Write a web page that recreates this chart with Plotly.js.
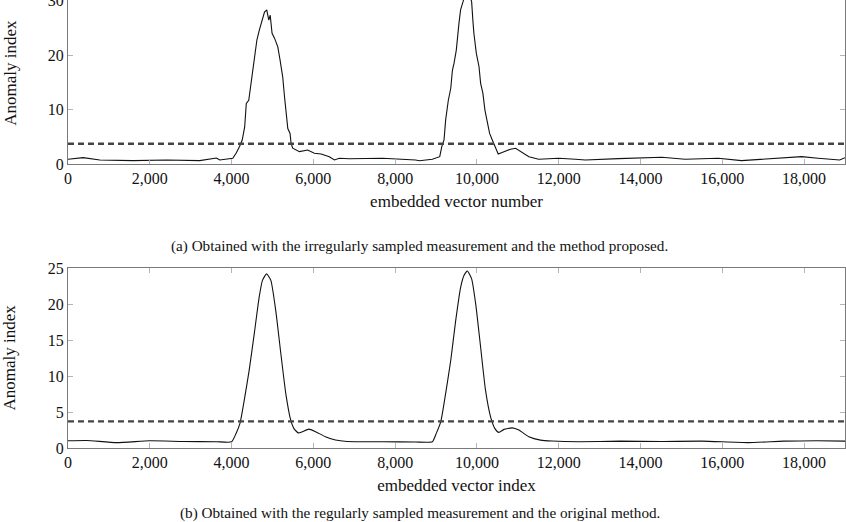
<!DOCTYPE html>
<html>
<head>
<meta charset="utf-8">
<script src="https://cdn.plot.ly/plotly-3.0.1.min.js"></script>
<style>
  html, body { margin: 0; padding: 0; background: #fff; }
  #myDiv { width: 846px; height: 522px; }
</style>
</head>
<body>
<div id="myDiv"></div>
<script>
// (a) irregularly sampled measurement, proposed method
const xA = [0, 370, 780, 1590, 2410, 3220, 3630, 3710, 4030, 4110, 4195, 4260, 4320, 4360, 4420, 4480, 4520, 4560,
  4620, 4680, 4725, 4805, 4860, 4910, 4945, 4990, 5050, 5130, 5185, 5250, 5295, 5335, 5375, 5430, 5455, 5495,
  5660, 5860, 6025, 6190, 6390, 6515, 6635, 6880, 7690, 8500, 8590, 8910, 9090, 9140, 9195, 9235, 9300, 9360,
  9400, 9440, 9495, 9560, 9600, 9660, 9700, 9800, 9870, 9900, 9925, 9985, 10050, 10090, 10145, 10195, 10250,
  10310, 10375, 10440, 10520, 10660, 10820, 10945, 11065, 11270, 11510, 12000, 12410, 12650, 13460, 14520,
  15090, 15900, 16470, 17290, 17940, 18340, 18870, 19000];
const yA = [0.86, 1.16, 0.73, 0.61, 0.73, 0.61, 1.1, 0.73, 1.04, 1.96, 3.2, 4.4, 6.8, 11.1, 11.7, 14.8, 17.6, 19.1,
  22.8, 24.6, 25.8, 27.9, 28.3, 26.4, 27.3, 24.0, 23.1, 21.5, 19.1, 16.0, 12.3, 9.3, 6.5, 5.6, 3.8, 2.9,
  2.26, 2.57, 1.96, 1.83, 1.34, 0.73, 1.04, 0.95, 1.04, 0.73, 0.6, 0.86, 1.34, 3.2, 4.4, 8.1, 11.7, 13.9,
  17.2, 18.5, 20.9, 25.8, 28.3, 29.8, 31.0, 31.5, 29.8, 26.4, 24.0, 20.3, 17.9, 14.8, 13.0, 9.9, 7.5,
  5.6, 4.4, 3.2, 1.83, 2.26, 2.7, 2.88, 2.26, 1.34, 0.86, 1.04, 0.86, 0.73, 0.98, 1.22,
  0.86, 1.04, 0.61, 1.04, 1.34, 1.04, 0.73, 1.16];

// (b) regularly sampled measurement, original method
const xB = [0, 455, 1190, 2000, 2810, 3630, 4000, 4110, 4205, 4310, 4430, 4555, 4675, 4755, 4855, 4960, 5080,
  5205, 5325, 5445, 5525, 5630, 5730, 5890, 6055, 6295, 6540, 6825, 7690, 8500, 8910, 9005, 9115, 9235,
  9360, 9480, 9600, 9685, 9765, 9870, 9970, 10090, 10210, 10335, 10440, 10535, 10660, 10860, 11025, 11270,
  11555, 11835, 12490, 13500, 14500, 15500, 16630, 17500, 18300, 19000];
const yB = [1.0, 1.05, 0.75, 1.0, 0.9, 0.87, 0.86, 2.03, 3.42, 6.65, 10.8, 15.9, 20.96, 23.3, 24.2, 23.3, 19.1,
  13.1, 7.6, 3.9, 2.7, 2.1, 2.26, 2.63, 2.26, 1.57, 1.1, 0.9, 0.87, 0.83, 0.87, 2.03, 3.64, 7.6,
  12.2, 17.7, 22.3, 24.0, 24.6, 23.5, 20.0, 14.0, 8.0, 4.3, 2.7, 2.17, 2.59, 2.8, 2.5, 1.57,
  1.1, 0.97, 0.87, 0.95, 0.9, 0.95, 0.75, 0.95, 1.0, 0.95];

const threshold = 3.7;
const xSpan = [0, 19000];
const xTicks = [0, 2000, 4000, 6000, 8000, 10000, 12000, 14000, 16000, 18000];

const graphDiv = document.getElementById('myDiv');
const serif = 'Liberation Serif, Times New Roman, serif';
const frame = '#7a7a7a';

function xAxis(title, anchor, mirror) {
    return {
        anchor: anchor,
        domain: [0, 1],
        range: xSpan,
        autorange: false,
        tickvals: xTicks,
        tickformat: ',',
        ticks: 'inside',
        ticklen: 5,
        tickcolor: '#b5b5b5',
        showline: true,
        linecolor: frame,
        linewidth: 1,
        mirror: mirror,
        showgrid: false,
        zeroline: false,
        tickfont: {family: serif, size: 16, color: '#111'},
        title: {text: title, font: {family: serif, size: 17, color: '#111'}, standoff: 8},
    };
}
function yAxis(anchor, domain, range, dtick) {
    return {
        anchor: anchor,
        domain: domain,
        range: range,
        autorange: false,
        dtick: dtick,
        ticks: 'inside',
        ticklen: 5,
        tickcolor: '#b5b5b5',
        showline: true,
        linecolor: frame,
        linewidth: 1,
        mirror: 'ticks',
        showgrid: false,
        zeroline: false,
        ticklabeloverflow: 'allow',
        tickfont: {family: serif, size: 16, color: '#111'},
    };
}
function note(text, x, y, size, angle) {
    return {text: text, xref: 'paper', yref: 'paper', x: x, y: y, xanchor: 'center', yanchor: 'middle',
        textangle: angle, showarrow: false, font: {family: serif, size: size, color: '#111'}};
}

const curveA = {x: xA, y: yA, xaxis: 'x', yaxis: 'y', type: 'scatter', mode: 'lines',
    line: {color: '#111', width: 1.1}, hoverinfo: 'none'};
const limitA = {x: xSpan, y: [threshold, threshold], xaxis: 'x', yaxis: 'y', type: 'scatter', mode: 'lines',
    line: {color: '#444', width: 2.4, dash: '6px,4px'}, hoverinfo: 'none'};
const curveB = {x: xB, y: yB, xaxis: 'x2', yaxis: 'y2', type: 'scatter', mode: 'lines',
    line: {color: '#111', width: 1.1, shape: 'spline', smoothing: 0.5}, hoverinfo: 'none'};
const limitB = {x: xSpan, y: [threshold, threshold], xaxis: 'x2', yaxis: 'y2', type: 'scatter', mode: 'lines',
    line: {color: '#444', width: 2.4, dash: '6px,4px'}, hoverinfo: 'none'};

const layout = {
    width: 846,
    height: 522,
    showlegend: false,
    margin: {l: 68, r: 1, t: 0, b: 74, pad: 0, autoexpand: false},
    paper_bgcolor: '#fff',
    plot_bgcolor: '#fff',
    xaxis: xAxis('embedded vector number', 'y', false),
    yaxis: yAxis('x', [0.634, 1], [0, 30.1], 10),
    xaxis2: xAxis('embedded vector index', 'y2', 'ticks'),
    yaxis2: yAxis('x2', [0, 0.4015], [0, 25], 5),
    annotations: [
        note('Anomaly index', -0.075, 0.837, 17, -90),
        note('Anomaly index', -0.075, 0.2015, 17, -90),
        note('(a) Obtained with the irregularly sampled measurement and the method proposed.', 0.453, 0.451, 15.2, 0),
        note('(b) Obtained with the regularly sampled measurement and the original method.', 0.453, -0.145, 15.2, 0),
    ],
};
const config = {displayModeBar: false, staticPlot: true};

Plotly.newPlot(graphDiv, [curveA, limitA, curveB, limitB], layout, config);
</script>
</body>
</html>
